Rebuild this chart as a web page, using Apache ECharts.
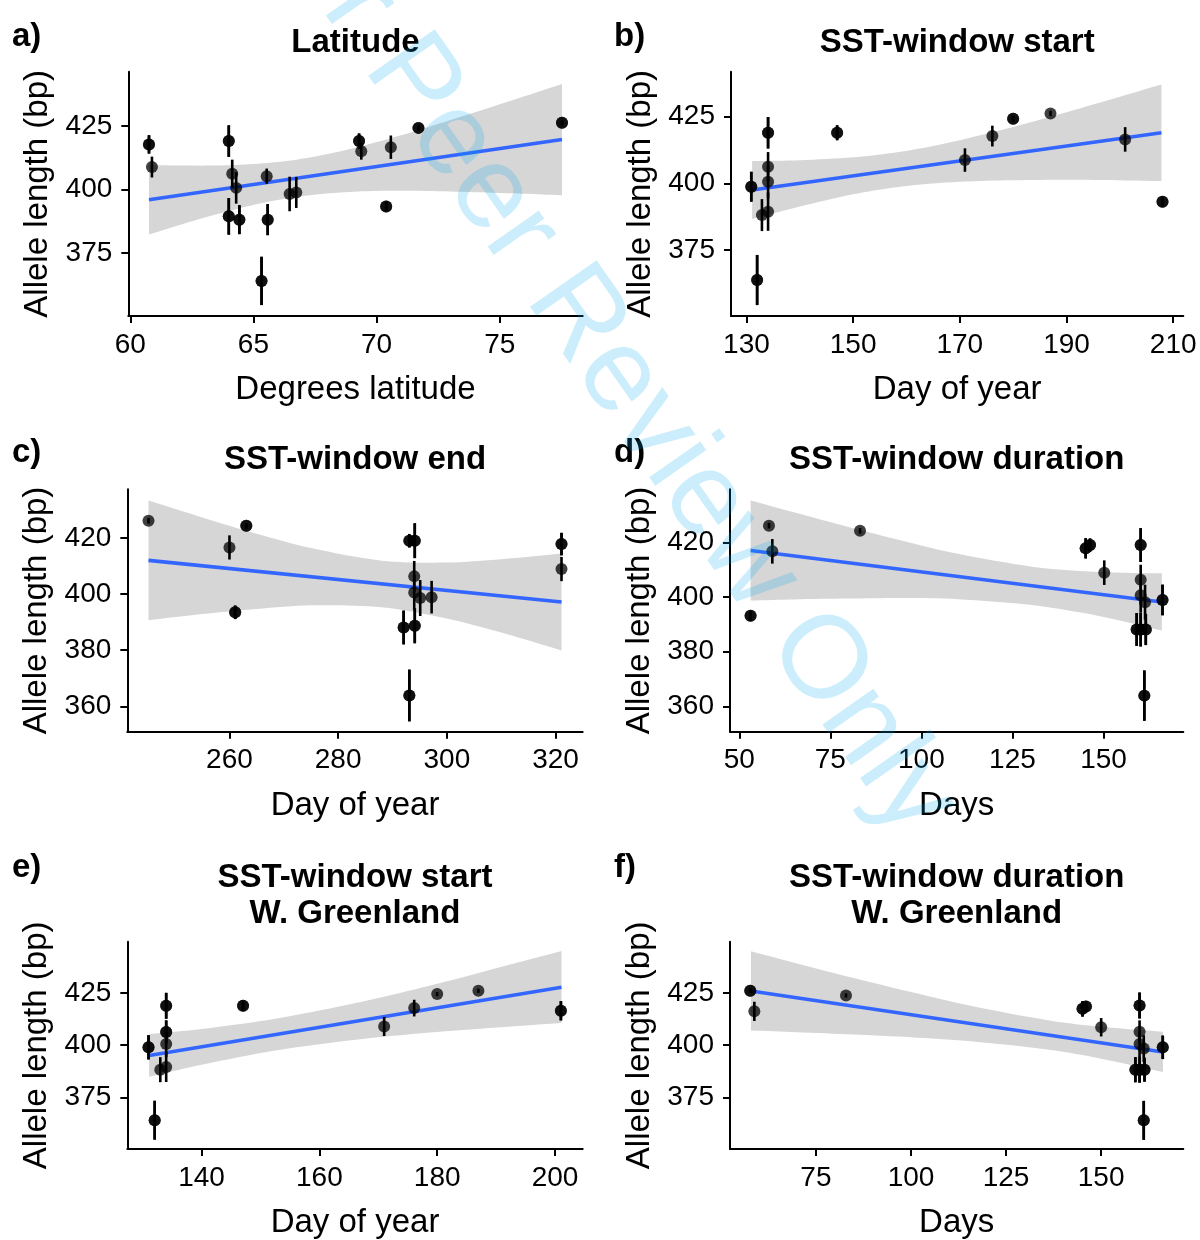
<!DOCTYPE html>
<html>
<head>
<meta charset="utf-8">
<script src="https://cdn.jsdelivr.net/npm/echarts@6/dist/echarts.min.js"></script>
<style>
  html, body { margin: 0; padding: 0; background: #ffffff; }
  #chart { width: 1200px; height: 1240px; }
</style>
</head>
<body>
<div id="chart"></div>
<script>
// Allele length (bp) of each sample with its error half-width, against six predictors.
// ...N arrays give how many samples sit on the same spot.

// a) Latitude
const latX   = [60.76, 60.88, 64.00, 64.14, 64.30, 64.00, 64.43, 65.54, 65.58, 65.33, 66.47, 66.74, 69.29, 69.38, 70.58, 70.39, 71.70, 77.53];
const latY   = [417.8, 408.9, 419.1, 406.3, 400.7, 389.5, 388.2, 405.3, 388.2, 364.1, 398.3, 398.9, 419.1, 415.1, 416.7, 393.4, 424.3, 426.3];
const latErr = [3.6, 4.1, 6.2, 5.5, 6.2, 7.2, 5.7, 3.0, 6.1, 9.5, 6.8, 6.1, 3.0, 3.3, 4.6, 1.8, 1.0, 1.0];
const latN   = [2, 1, 2, 1, 1, 2, 2, 1, 2, 2, 1, 1, 2, 1, 1, 2, 2, 2];
const latFitX = [60.76, 77.53];
const latFitY = [396.05, 419.7];
const latBandX  = [60.76, 62, 63.5, 65, 66.75, 68.5, 70, 72, 74, 76, 77.53];
const latBandLo = [382.4, 386.1, 390.3, 394.0, 397.2, 398.9, 399.5, 399.5, 399.0, 398.4, 397.8];
const latBandHi = [409.7, 409.5, 409.5, 410.1, 411.8, 415.0, 418.7, 424.3, 430.4, 436.7, 441.6];
const latTicksX = [60, 65, 70, 75];
const latTicksY = [375, 400, 425];
const latLimX = [59.92, 78.37];
const latLimY = [350.3, 446.4];

// b) SST-window start
const startX   = [130.9, 132.0, 132.9, 134.05, 134.05, 134.05, 134.05, 147.0, 170.96, 176.1, 180.0, 187.0, 201.0, 208.0];
const startY   = [398.75, 363.75, 388.1, 419.0, 406.25, 400.6, 389.4, 419.0, 408.75, 417.75, 424.25, 426.25, 416.5, 393.1];
const startErr = [5.6, 9.4, 6.0, 5.9, 5.5, 6.2, 7.2, 2.8, 4.4, 3.9, 1.0, 1.0, 4.6, 1.8];
const startN   = [2, 2, 1, 2, 1, 1, 1, 2, 1, 1, 2, 1, 1, 2];
const startFitX = [131.06, 207.8];
const startFitY = [397.5, 419.0];
const startBandX  = [131.06, 140, 150, 157.3, 165, 175, 185, 195, 207.8];
const startBandLo = [386.6, 391.3, 395.9, 398.4, 400.0, 401.0, 401.3, 401.3, 400.9];
const startBandHi = [408.4, 408.7, 409.8, 411.4, 414.0, 418.6, 423.9, 429.6, 437.1];
const startTicksX = [130, 150, 170, 190, 210];
const startTicksY = [375, 400, 425];
const startLimX = [127.1, 211.9];
const startLimY = [350.25, 441.9];

// c) SST-window end
const endX   = [245.1, 260.0, 263.1, 261.05, 293.1, 294.1, 294.0, 294.0, 295.1, 297.2, 292.05, 294.1, 293.1, 321.1, 321.1];
const endY   = [426.1, 416.6, 424.3, 393.5, 419.0, 419.0, 406.3, 400.6, 398.6, 398.9, 388.1, 388.7, 363.9, 417.8, 408.9];
const endErr = [1.0, 4.3, 1.0, 2.4, 2.4, 6.2, 5.5, 6.2, 6.4, 5.8, 6.0, 6.2, 9.2, 4.0, 4.3];
const endN   = [1, 1, 2, 2, 2, 2, 1, 1, 1, 1, 2, 2, 2, 2, 1];
const endFitX = [245.1, 321.1];
const endFitY = [412.0, 397.15];
const endBandX  = [245.1, 255, 265, 275, 288, 300, 310, 321.1];
const endBandLo = [390.7, 392.9, 394.7, 396.0, 395.3, 391.3, 386.3, 379.9];
const endBandHi = [433.3, 427.3, 421.5, 416.4, 411.9, 411.2, 412.4, 414.4];
const endTicksX = [260, 280, 300, 320];
const endTicksY = [360, 380, 400, 420];
const endLimX = [241.2, 325.0];
const endLimY = [351.0, 437.3];

// d) SST-window duration
const durX   = [53.1, 58.15, 59.07, 83.15, 145.1, 146.3, 150.2, 160.2, 160.2, 160.2, 161.4, 159.1, 160.2, 161.6, 161.2, 166.2];
const durY   = [393.1, 426.1, 416.7, 424.2, 417.8, 419.0, 408.9, 419.0, 406.3, 400.6, 398.1, 388.1, 388.1, 388.1, 363.9, 398.9];
const durErr = [1.8, 1.0, 4.5, 1.0, 3.7, 2.4, 4.5, 6.2, 5.5, 6.2, 6.4, 6.0, 6.2, 5.7, 9.2, 5.6];
const durN   = [2, 1, 1, 1, 2, 2, 1, 2, 1, 1, 1, 2, 2, 2, 2, 2];
const durFitX = [53.11, 166.0];
const durFitY = [417.0, 398.16];
const durBandX  = [53.11, 65, 80, 95, 110, 130.3, 145, 155, 166];
const durBandLo = [398.7, 399.1, 399.4, 399.6, 399.2, 397.1, 394.0, 391.2, 387.7];
const durBandHi = [435.3, 431.0, 425.6, 420.5, 415.8, 411.1, 409.4, 408.9, 408.7];
const durTicksX = [50, 75, 100, 125, 150];
const durTicksY = [360, 380, 400, 420];
const durLimX = [47.45, 171.9];
const durLimY = [350.7, 439.4];

// e) SST-window start, W. Greenland
const wgStartX   = [131.0, 132.05, 133.0, 134.0, 134.0, 134.0, 134.0, 147.05, 171.0, 176.1, 180.0, 187.0, 201.0];
const wgStartY   = [399.0, 364.1, 388.3, 418.9, 406.4, 400.6, 389.6, 418.9, 409.0, 417.8, 424.5, 426.1, 416.5];
const wgStartErr = [5.8, 9.3, 6.0, 6.2, 5.5, 6.2, 7.2, 2.4, 4.6, 4.0, 1.0, 1.0, 4.6];
const wgStartN   = [2, 2, 1, 2, 2, 1, 1, 2, 1, 1, 1, 1, 2];
const wgStartFitX = [131.1, 201.1];
const wgStartFitY = [395.05, 427.8];
const wgStartBandX  = [131.1, 140, 152.5, 165, 175, 185, 201.1];
const wgStartBandLo = [384.9, 390.7, 397.5, 402.3, 405.2, 407.4, 410.6];
const wgStartBandHi = [405.3, 407.8, 412.7, 419.5, 426.0, 433.1, 445.1];
const wgStartTicksX = [140, 160, 180, 200];
const wgStartTicksY = [375, 400, 425];
const wgStartLimX = [127.4, 204.7];
const wgStartLimY = [350.3, 449.6];

// f) SST-window duration, W. Greenland
const wgDurX   = [57.73, 58.8, 82.9, 145.1, 146.0, 150.0, 160.1, 160.1, 160.1, 161.2, 159.0, 160.1, 161.4, 161.2, 166.2];
const wgDurY   = [426.1, 416.2, 423.8, 417.4, 418.5, 408.6, 419.0, 406.4, 400.6, 398.4, 388.3, 388.3, 388.3, 364.1, 399.0];
const wgDurErr = [1.0, 4.6, 1.0, 3.7, 2.4, 4.4, 6.2, 5.5, 6.2, 6.4, 6.0, 6.2, 5.7, 9.3, 5.6];
const wgDurN   = [2, 1, 1, 2, 2, 1, 2, 1, 1, 1, 2, 2, 2, 2, 2];
const wgDurFitX = [57.91, 166.24];
const wgDurFitY = [425.9, 396.8];
const wgDurBandX  = [57.91, 70, 85, 100, 115, 136.8, 150, 166.24];
const wgDurBandLo = [407.0, 406.2, 405.1, 403.8, 402.0, 397.7, 393.6, 387.2];
const wgDurBandHi = [444.9, 439.1, 432.1, 425.4, 419.1, 411.7, 408.8, 406.4];
const wgDurTicksX = [75, 100, 125, 150];
const wgDurTicksY = [375, 400, 425];
const wgDurLimX = [52.4, 171.6];
const wgDurLimY = [350.4, 449.5];

// Panel texts
const panelLetters = ['a)', 'b)', 'c)', 'd)', 'e)', 'f)'];
const panelTitles = [
  ['Latitude'],
  ['SST-window start'],
  ['SST-window end'],
  ['SST-window duration'],
  ['SST-window start', 'W. Greenland'],
  ['SST-window duration', 'W. Greenland']
];
const xTitles = ['Degrees latitude', 'Day of year', 'Day of year', 'Days', 'Day of year', 'Days'];
const yTitle = 'Allele length (bp)';

const panels = [
  { x: latX, y: latY, err: latErr, n: latN, fitX: latFitX, fitY: latFitY, bandX: latBandX, bandLo: latBandLo, bandHi: latBandHi, ticksX: latTicksX, ticksY: latTicksY, limX: latLimX, limY: latLimY },
  { x: startX, y: startY, err: startErr, n: startN, fitX: startFitX, fitY: startFitY, bandX: startBandX, bandLo: startBandLo, bandHi: startBandHi, ticksX: startTicksX, ticksY: startTicksY, limX: startLimX, limY: startLimY },
  { x: endX, y: endY, err: endErr, n: endN, fitX: endFitX, fitY: endFitY, bandX: endBandX, bandLo: endBandLo, bandHi: endBandHi, ticksX: endTicksX, ticksY: endTicksY, limX: endLimX, limY: endLimY },
  { x: durX, y: durY, err: durErr, n: durN, fitX: durFitX, fitY: durFitY, bandX: durBandX, bandLo: durBandLo, bandHi: durBandHi, ticksX: durTicksX, ticksY: durTicksY, limX: durLimX, limY: durLimY },
  { x: wgStartX, y: wgStartY, err: wgStartErr, n: wgStartN, fitX: wgStartFitX, fitY: wgStartFitY, bandX: wgStartBandX, bandLo: wgStartBandLo, bandHi: wgStartBandHi, ticksX: wgStartTicksX, ticksY: wgStartTicksY, limX: wgStartLimX, limY: wgStartLimY },
  { x: wgDurX, y: wgDurY, err: wgDurErr, n: wgDurN, fitX: wgDurFitX, fitY: wgDurFitY, bandX: wgDurBandX, bandLo: wgDurBandLo, bandHi: wgDurBandHi, ticksX: wgDurTicksX, ticksY: wgDurTicksY, limX: wgDurLimX, limY: wgDurLimY }
];

// Layout of the 2 x 3 grid of plot areas
const FONT = "'Liberation Sans', Arial, Helvetica, sans-serif";
const gridBoxes = [
  { left: 128.3, top: 71.7,  width: 454.4, height: 244.3 },
  { left: 731.0, top: 71.7,  width: 452.3, height: 244.3 },
  { left: 127.3, top: 489.3, width: 455.4, height: 242.4 },
  { left: 730.0, top: 489.3, width: 453.3, height: 242.4 },
  { left: 127.3, top: 941.7, width: 455.4, height: 207.3 },
  { left: 730.0, top: 941.7, width: 453.3, height: 207.3 }
];
const letterX = [12, 614, 12, 614, 12, 614];
const letterY = [37, 37, 453, 453, 868, 868];
const titleY  = [[43], [43], [460], [460], [878, 914], [878, 914]];
const BAND_GREY = '#d6d6d6';

const grid = [], xAxis = [], yAxis = [], series = [], graphic = [];

panels.forEach(function (p, i) {
  const g = gridBoxes[i];
  grid.push({ left: g.left, top: g.top, width: g.width, height: g.height, containLabel: false });

  xAxis.push({
    type: 'value', gridIndex: i, min: p.limX[0], max: p.limX[1],
    axisLine: { show: true, onZero: false, lineStyle: { color: '#000', width: 2 } },
    axisTick: { show: true, length: 7, lineStyle: { color: '#000', width: 2 }, customValues: p.ticksX },
    axisLabel: { customValues: p.ticksX, fontSize: 28, color: '#000', fontFamily: FONT, margin: 15 },
    splitLine: { show: false }
  });
  yAxis.push({
    type: 'value', gridIndex: i, min: p.limY[0], max: p.limY[1],
    axisLine: { show: true, onZero: false, lineStyle: { color: '#000', width: 2 } },
    axisTick: { show: true, length: 7, lineStyle: { color: '#000', width: 2 }, customValues: p.ticksY },
    axisLabel: { customValues: p.ticksY, fontSize: 28, color: '#000', fontFamily: FONT, margin: 16 },
    splitLine: { show: false }
  });

  // confidence band: one closed outline, upper edge left to right then lower edge back.
  // Corner vertices are doubled so the smoothing keeps the band ends square.
  series.push({
    type: 'custom', xAxisIndex: i, yAxisIndex: i, silent: true, z: 1,
    encode: { x: 0, y: [1, 2] },
    renderItem: function (params, api) {
      if (params.dataIndex !== 0) { return null; }
      const n = p.bandX.length;
      const upper = p.bandX.map(function (x, k) { return api.coord([x, p.bandHi[k]]); });
      const lower = p.bandX.map(function (x, k) { return api.coord([x, p.bandLo[k]]); }).reverse();
      const outline = [upper[0]].concat(upper, [upper[n - 1]], [lower[0]], lower, [lower[n - 1]]);
      return { type: 'polygon', shape: { points: outline, smooth: 0.3 },
               style: { fill: BAND_GREY, stroke: null } };
    },
    data: p.bandX.map(function (x, k) { return [x, p.bandLo[k], p.bandHi[k]]; })
  });
  // fitted line
  series.push({
    type: 'line', xAxisIndex: i, yAxisIndex: i, symbol: 'none', silent: true, z: 2,
    lineStyle: { color: '#3366ff', width: 3.6 },
    data: p.fitX.map(function (x, k) { return [x, p.fitY[k]]; })
  });

  // expand each spot by its sample count
  const pts = [], bars = [];
  p.x.forEach(function (x, k) {
    for (let c = 0; c < p.n[k]; c++) {
      pts.push([x, p.y[k]]);
      bars.push([x, p.y[k] - p.err[k], p.y[k] + p.err[k]]);
    }
  });
  series.push({
    type: 'custom', xAxisIndex: i, yAxisIndex: i, silent: true, z: 3,
    encode: { x: 0, y: [1, 2] },
    renderItem: function (params, api) {
      const a = api.coord([api.value(0), api.value(1)]);
      const b = api.coord([api.value(0), api.value(2)]);
      return { type: 'line', shape: { x1: a[0], y1: a[1], x2: b[0], y2: b[1] },
               style: { stroke: '#000', lineWidth: 2.6 } };
    },
    data: bars
  });
  series.push({
    type: 'scatter', xAxisIndex: i, yAxisIndex: i, silent: true, z: 4,
    symbol: 'circle', symbolSize: 12,
    itemStyle: { color: '#000', opacity: 0.75 },
    data: pts
  });

  // panel letter, title, axis titles
  graphic.push({ type: 'text', x: letterX[i], y: letterY[i], z: 50,
    style: { text: panelLetters[i], font: 'bold 33px ' + FONT, fill: '#000', textAlign: 'left', textVerticalAlign: 'middle', align: 'left', verticalAlign: 'middle' } });
  panelTitles[i].forEach(function (t, r) {
    graphic.push({ type: 'text', x: g.left + g.width / 2, y: titleY[i][r], z: 50,
      style: { text: t, font: 'bold 33px ' + FONT, fill: '#000', textAlign: 'center', textVerticalAlign: 'middle', align: 'center', verticalAlign: 'middle' } });
  });
  graphic.push({ type: 'text', x: g.left + g.width / 2, y: g.top + g.height + 74, z: 50,
    style: { text: xTitles[i], font: '33px ' + FONT, fill: '#000', textAlign: 'center', textVerticalAlign: 'middle', align: 'center', verticalAlign: 'middle' } });
  graphic.push({ type: 'text', x: g.left - 90, y: g.top + g.height / 2, rotation: Math.PI / 2, z: 50,
    style: { text: yTitle, font: '33px ' + FONT, fill: '#000', textAlign: 'center', textVerticalAlign: 'middle', align: 'center', verticalAlign: 'middle' } });
});

// diagonal stamp across the page
graphic.push({ type: 'text', x: 600, y: 350, rotation: -55 * Math.PI / 180, z: 100, silent: true,
  style: { text: 'For Peer Review Only', font: '118px ' + FONT, fill: 'rgba(0,170,240,0.2)', textAlign: 'center', textVerticalAlign: 'middle', align: 'center', verticalAlign: 'middle' } });

const chart = echarts.init(document.getElementById('chart'), null, { renderer: 'canvas' });
chart.setOption({
  animation: false,
  backgroundColor: '#ffffff',
  textStyle: { fontFamily: FONT },
  grid: grid,
  xAxis: xAxis,
  yAxis: yAxis,
  series: series,
  graphic: graphic
});
</script>
</body>
</html>
